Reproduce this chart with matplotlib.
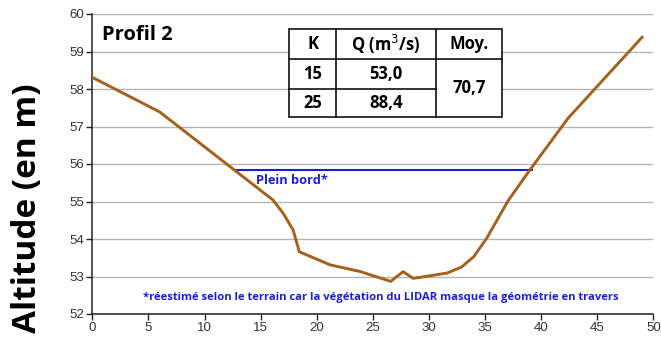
import matplotlib
matplotlib.use("Agg")
import matplotlib.pyplot as plt
from matplotlib.patches import Rectangle
from matplotlib.lines import Line2D

# Cross-section profile (distance in m, altitude in m)
distance = [0.0, 6.0, 16.1, 17.0, 17.9, 18.45, 21.2, 23.9, 26.6, 27.7, 28.6,
            31.6, 32.9, 34.0, 35.15, 37.1, 39.0, 42.4, 49.0]
altitude = [58.31, 57.39, 55.04, 54.69, 54.24, 53.66, 53.31, 53.13, 52.87,
            53.13, 52.95, 53.09, 53.25, 53.53, 54.02, 55.04, 55.84, 57.22, 59.38]

# Bankfull level
bankfull_x = [12.8, 39.2]
bankfull_y = [55.85, 55.85]

# Discharge table
table_header = ["K", "Q (m$^3$/s)", "Moy."]
table_k = ["15", "25"]
table_q = ["53,0", "88,4"]
table_mean = "70,7"

x_ticks = list(range(0, 51, 5))
y_ticks = list(range(52, 61))

W, H = 661, 338
fig = plt.figure(figsize=(W / 100, H / 100), dpi=100)
ax = fig.add_axes([92.3 / W, 1 - 314 / H, (653.3 - 92.3) / W, 300 / H])

ax.plot(distance, altitude, color="#a5601c", lw=2.1, solid_joinstyle="round", zorder=3)
ax.plot(bankfull_x, bankfull_y, color="#1c1ce0", lw=1.5, zorder=2)

ax.set_xlim(0, 50)
ax.set_ylim(52, 60)
ax.set_xticks(x_ticks)
ax.set_yticks(y_ticks)
ax.yaxis.grid(True, color="#b4b4b4", lw=1.0)
ax.set_axisbelow(True)
for s in ("top", "right"):
    ax.spines[s].set_visible(False)
for s in ("left", "bottom"):
    ax.spines[s].set_color("#222222")
    ax.spines[s].set_linewidth(1.1)
ax.tick_params(axis="both", length=4, width=1.0, color="#222222",
               labelsize=9.5, labelcolor="#333333", pad=2)
for lab in ax.get_xticklabels() + ax.get_yticklabels():
    lab.set_fontfamily("Liberation Sans")

ax.set_ylabel("Altitude (en m)", fontsize=24, fontweight="bold",
              fontfamily="Open Sans")
ax.yaxis.set_label_coords(-0.086, 0.353)

blue = "#1c1ce0"
ax.text(14.6, 55.57, "Plein bord*", color=blue, fontsize=9.2, fontweight="bold",
        fontfamily="Open Sans", va="center", ha="left")
ax.text(25.7, 52.45, "*réestimé selon le terrain car la végétation du LIDAR masque la géométrie en travers",
        color=blue, fontsize=8.1, fontweight="bold", fontfamily="Open Sans",
        va="center", ha="center")
ax.text(0.017, 0.965, "Profil 2", transform=ax.transAxes,
        fontsize=14.5, fontweight="bold", fontfamily="Open Sans", va="top", ha="left")


def fx(px):
    return px / W


def fy(py):
    return 1 - py / H


# Table drawn in figure pixel space
x0, x1, x2, x3 = 289.3, 336.0, 436.0, 501.7
y0, y1, y2, y3 = 29.3, 59.0, 89.0, 117.3
fig.patches.append(Rectangle((fx(x0), fy(y3)), fx(x3) - fx(x0), fy(y0) - fy(y3),
                             transform=fig.transFigure, facecolor="white",
                             edgecolor="#111111", lw=1.2, zorder=5))
lines = [((x1, x1), (y0, y3)), ((x2, x2), (y0, y3)),
         ((x0, x3), (y1, y1)), ((x0, x2), (y2, y2))]
for xs, ys in lines:
    fig.lines.append(Line2D([fx(v) for v in xs], [fy(v) for v in ys],
                            transform=fig.transFigure, color="#111111", lw=1.2, zorder=6))

tkw = dict(fontsize=12, fontweight="bold", fontfamily="Open Sans",
           ha="center", va="center", zorder=7)
cx = [(x0 + x1) / 2, (x1 + x2) / 2, (x2 + x3) / 2]
for c, txt in zip(cx, table_header):
    fig.text(fx(c), fy((y0 + y1) / 2), txt, **tkw)
for r, (k, q) in enumerate(zip(table_k, table_q)):
    yc = (y1 + y2) / 2 if r == 0 else (y2 + y3) / 2
    fig.text(fx(cx[0]), fy(yc), k, **tkw)
    fig.text(fx(cx[1]), fy(yc), q, **tkw)
fig.text(fx(cx[2]), fy((y1 + y3) / 2), table_mean, **tkw)

fig.savefig("out.png", dpi=100)
